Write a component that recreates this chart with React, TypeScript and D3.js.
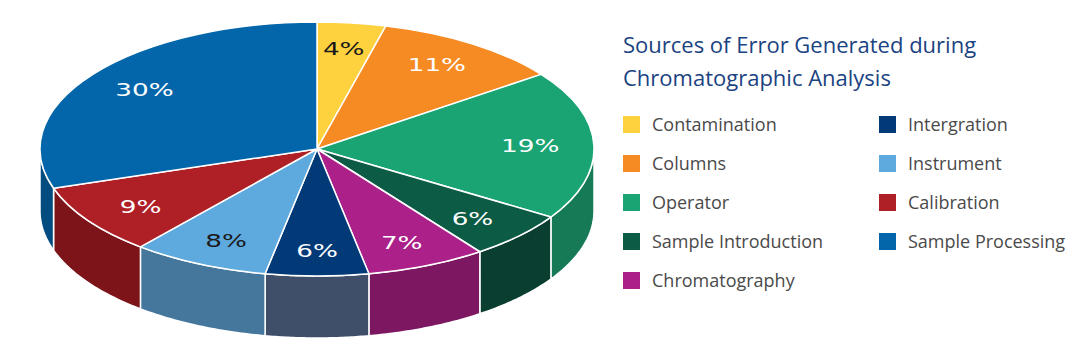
import React from 'react';
import * as d3 from 'd3';

const width = 1080;
const height = 360;

// pie geometry (ellipse seen from above, with a side wall)
const cx = 317;
const cy = 149;
const rx = 277;
const ry = 127;
const depth = 62;

const categories = [
  'Contamination',
  'Columns',
  'Operator',
  'Sample Introduction',
  'Chromatography',
  'Intergration',
  'Instrument',
  'Calibration',
  'Sample Processing'
];
const values = [4, 11, 19, 6, 7, 6, 8, 9, 30];
const topColors = ['#fed23f', '#f68a23', '#1aa473', '#0c5b45', '#ac2089', '#023a78', '#5ea9dd', '#af1f26', '#0466aa'];
const sideColors = ['#c9a32f', '#c26d1b', '#167a57', '#0a3e31', '#7d1761', '#3f4f6a', '#45779d', '#7c141a', '#034c80'];
const labelColors = ['#1a1a1a', '#fff', '#fff', '#fff', '#fff', '#fff', '#1a1a1a', '#fff', '#fff'];

// legend order: first column then second column
const legendCol1 = ['Contamination', 'Columns', 'Operator', 'Sample Introduction', 'Chromatography'];
const legendCol2 = ['Intergration', 'Instrument', 'Calibration', 'Sample Processing'];
const titleLines = ['Sources of Error Generated during', 'Chromatographic Analysis'];

const pie = d3.pie<number>().sort(null).value(d => d);
const arcs = pie(values);
const arc = d3.arc<d3.PieArcDatum<number>>().innerRadius(0).outerRadius(rx);

const px = (a: number) => cx + rx * Math.sin(a);
const py = (a: number) => cy - ry * Math.cos(a);

// side wall only exists on the front half of the ellipse
function sidePath(a0: number, a1: number) {
  const s = Math.max(a0, Math.PI / 2);
  const e = Math.min(a1, (3 * Math.PI) / 2);
  if (s >= e) return null;
  const n = 40;
  const angles = d3.range(n + 1).map(i => s + ((e - s) * i) / n);
  const line = d3.line();
  const pts: [number, number][] = angles.map(a => [px(a), py(a)]);
  const back: [number, number][] = angles.slice().reverse().map(a => [px(a), py(a) + depth]);
  return line([...pts, ...back]) + 'Z';
}

const labelFx = 0.77;
const labelFy = 0.8;

export default function App() {
  return (
    <svg width={width} height={height} style={{ display: 'block', position: 'absolute', left: 0, top: 0 }}>
      <rect width={width} height={height} fill="#fff" />

      {/* side walls */}
      <g>
        {arcs.map((d, i) => {
          const p = sidePath(d.startAngle, d.endAngle);
          return p ? <path key={i} d={p} fill={sideColors[i]} stroke="#fff" strokeWidth={1.5} strokeLinejoin="round" /> : null;
        })}
      </g>

      {/* top face */}
      <g transform={`translate(${cx},${cy}) scale(1,${ry / rx})`}>
        {arcs.map((d, i) => (
          <path key={i} d={arc(d) || ''} fill={topColors[i]} stroke="#fff" strokeWidth={1.5} vectorEffect="non-scaling-stroke" strokeLinejoin="round" />
        ))}
      </g>

      {/* labels */}
      {arcs.map((d, i) => {
        const mid = (d.startAngle + d.endAngle) / 2;
        const x = cx + rx * labelFx * Math.sin(mid);
        const y = cy - ry * labelFy * Math.cos(mid);
        return (
          <text
            key={i}
            transform={`translate(${x},${y + 6.5}) scale(1.5,1)`}
            textAnchor="middle"
            fontFamily="DejaVu Sans"
            fontSize={17.5}
            fill={labelColors[i]}
          >
            {values[i]}%
          </text>
        );
      })}

      {/* title */}
      {titleLines.map((t, i) => (
        <text key={t} x={623} y={53 + i * 33} fontFamily="Open Sans" fontSize={22} fill="#1b4381">
          {t}
        </text>
      ))}

      {/* legend */}
      {[legendCol1, legendCol2].map((col, c) =>
        col.map((name, r) => {
          const idx = categories.indexOf(name);
          const x = c === 0 ? 623 : 879;
          const y = 131 + r * 39;
          return (
            <g key={name}>
              <rect x={x} y={y - 15} width={17} height={17} fill={topColors[idx]} />
              <text x={x + 29} y={y} fontFamily="Open Sans" fontSize={18} fill="#4a4a4a">
                {name}
              </text>
            </g>
          );
        })
      )}
    </svg>
  );
}
